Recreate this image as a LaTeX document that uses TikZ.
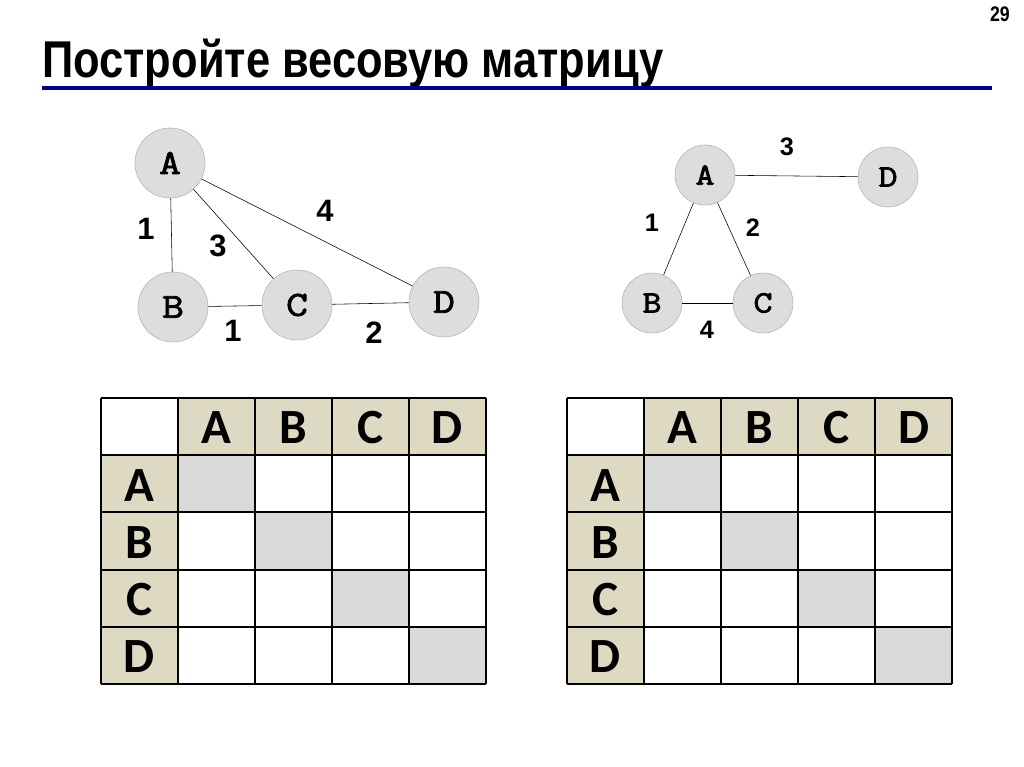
\documentclass[tikz,border=0pt]{standalone}
\usepackage{fontspec}
\setmainfont{Liberation Sans}
\newfontfamily\titlefont[FakeStretch=0.84]{Liberation Sans}
\newfontfamily\vertexfont[FakeBold=2.5, FakeStretch=1.2]{Latin Modern Mono}
\newfontfamily\cellfont{Carlito}
\definecolor{headfill}{RGB}{221,217,195}
\definecolor{diagfill}{RGB}{217,217,217}
\definecolor{nodefill}{RGB}{221,221,221}
\definecolor{rulecolor}{RGB}{0,0,128}

\tikzset{
  vertex/.style={circle, fill=nodefill, draw=gray!60, inner sep=0pt,
    font=\vertexfont\fontsize{25}{25}\selectfont},
  bigvertex/.style={vertex, minimum size=1.75cm},
  smallvertex/.style={vertex, minimum size=1.5cm,
    font=\vertexfont\fontsize{22}{22}\selectfont},
  weight/.style={font=\bfseries\fontsize{22}{22}\selectfont},
  smallweight/.style={font=\bfseries\fontsize{18}{18}\selectfont},
  cell/.style={font=\cellfont\bfseries\fontsize{35}{35}\selectfont}
}

\begin{document}
\begin{tikzpicture}[x=0.025cm, y=-0.025cm]
        \useasboundingbox [fill=white] (0, 0) rectangle (1024, 767);
        % title
        \node [anchor=base east, inner sep=0pt, font=\titlefont\bfseries\fontsize{15}{15}\selectfont] (page) at (1010, 22) {29};
        \node [anchor=base west, inner sep=0pt, font=\titlefont\bfseries\fontsize{36.8}{36.8}\selectfont] (title) at (42, 78) {Постройте весовую матрицу};
        \draw [rulecolor, line width=2.2pt] (42, 88) -- (992, 88);

        % first graph
        \node [bigvertex] (A1) at (170, 163) {A};
        \node [bigvertex] (B1) at (173, 307) {B};
        \node [bigvertex] (C1) at (297, 305) {C};
        \node [bigvertex] (D1) at (444, 302) {D};
        \draw (A1) -- (B1);
        \draw (A1) -- (C1);
        \draw (A1) -- (D1);
        \draw (B1) -- (C1);
        \draw (C1) -- (D1);
        \node [weight] (wAB1) at (146, 229) {1};
        \node [weight] (wAC1) at (218, 246) {3};
        \node [weight] (wAD1) at (325, 211) {4};
        \node [weight] (wBC1) at (233, 331) {1};
        \node [weight] (wCD1) at (374, 333) {2};

        % second graph
        \node [smallvertex] (A2) at (705, 175) {A};
        \node [smallvertex] (B2) at (652, 303) {B};
        \node [smallvertex] (C2) at (763, 303) {C};
        \node [smallvertex] (D2) at (888, 177) {D};
        \draw (A2) -- (B2);
        \draw (A2) -- (C2);
        \draw (A2) -- (D2);
        \draw (B2) -- (C2);
        \node [smallweight] (wAD2) at (787, 147) {3};
        \node [smallweight] (wAB2) at (652, 223) {1};
        \node [smallweight] (wAC2) at (753, 228) {2};
        \node [smallweight] (wBC2) at (707, 330) {4};

        % the two empty matrices
        \foreach \ox/\t in {101/L, 567/R} {
          \begin{scope}[shift={(\ox, 398)}]
            \fill [headfill] (77, 0) rectangle (385, 57.2);
            \fill [headfill] (0, 57.2) rectangle (77, 286);
            \foreach \i in {1,...,4}
              \fill [diagfill] (77*\i, 57.2*\i) rectangle ++(77, 57.2);
            \foreach \i in {0,...,5} {
              \draw [line width=1.3pt] (77*\i, 0) -- (77*\i, 286);
              \draw [line width=1.3pt] (0, 57.2*\i) -- (385, 57.2*\i);
            }
            \foreach \l [count=\i] in {A, B, C, D} {
              \node [cell] (top-\t-\i) at (77*\i+38.5, 30) {\l};
              \node [cell] (side-\t-\i) at (38.5, 57.2*\i+30) {\l};
            }
          \end{scope}
        }
    \end{tikzpicture}
\end{document}
